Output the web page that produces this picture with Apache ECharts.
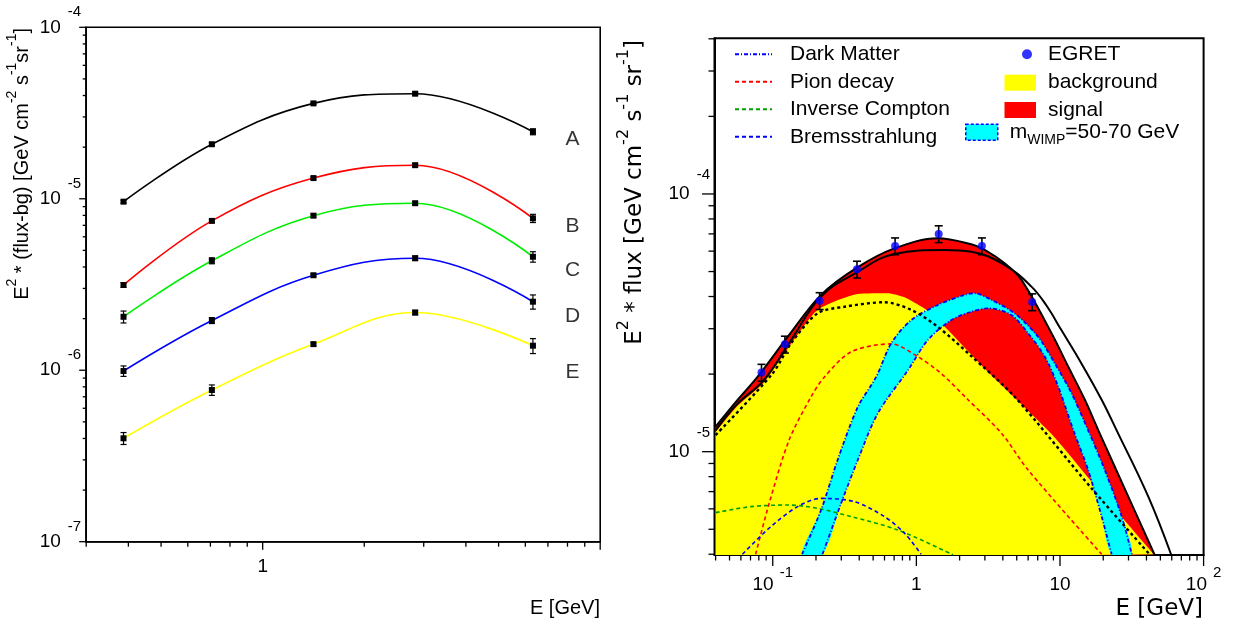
<!DOCTYPE html>
<html>
<head>
<meta charset="utf-8">
<script src="https://cdn.jsdelivr.net/npm/echarts@6/dist/echarts.min.js"></script>
<style>
html,body{margin:0;padding:0;background:#ffffff;}
#chart{width:1237px;height:628px;}
</style>
</head>
<body>
<div id="chart"></div>
<script>
// ================= LEFT PANEL DATA =================
const leftEnergies = [0.387, 0.707, 1.414, 2.83, 6.32];
const fluxA = [9.62e-6, 2.08e-5, 3.60e-5, 4.10e-5, 2.46e-5];
const fluxB = [3.14e-6, 7.43e-6, 1.32e-5, 1.57e-5, 7.69e-6];
const fluxC = [2.05e-6, 4.35e-6, 7.97e-6, 9.42e-6, 4.59e-6];
const fluxD = [9.9e-7, 1.95e-6, 3.58e-6, 4.50e-6, 2.51e-6];
const fluxE = [4.01e-7, 7.67e-7, 1.42e-6, 2.17e-6, 1.39e-6];
const relErrA = [0.02, 0.02, 0.015, 0.02, 0.04];
const relErrB = [0.03, 0.02, 0.015, 0.02, 0.055];
const relErrC = [0.08, 0.04, 0.02, 0.02, 0.07];
const relErrD = [0.07, 0.04, 0.02, 0.03, 0.095];
const relErrE = [0.08, 0.07, 0.02, 0.03, 0.10];
const regionNames = ['A', 'B', 'C', 'D', 'E'];
const regionLabelE = 8.28;
const regionLabelFlux = [2.23e-5, 6.93e-6, 3.85e-6, 2.07e-6, 9.77e-7];
const leftXLabelExps = [0];
const leftYLabelExps = [-7, -6, -5, -4];

// ================= RIGHT PANEL DATA =================
const egretE = [0.0835, 0.1215, 0.212, 0.386, 0.711, 1.43, 2.86, 6.40];
const egretFlux = [2.03e-5, 2.61e-5, 3.85e-5, 5.10e-5, 6.28e-5, 7.00e-5, 6.28e-5, 3.81e-5];
const egretRelErr = [0.075, 0.075, 0.075, 0.075, 0.075, 0.075, 0.075, 0.075];

// total fit (signal + background) – upper boundary of red area
const totalFit = [[0.04,1.25e-5],[0.0565,1.58e-5],[0.0783,1.95e-5],[0.127,2.79e-5],[0.217,4.06e-5],[0.391,5.20e-5],[0.703,6.15e-5],[1.41,6.73e-5],[2.41,6.38e-5],[2.99,6.07e-5],[4.12,5.38e-5],[5.39,4.64e-5],[8.73,2.88e-5],[11.4,2.14e-5],[14.9,1.59e-5],[18.5,1.21e-5],[29.9,6.69e-6],[45.4,4.0e-6]];
// second solid curve
const altFit = [[0.04,1.21e-5],[0.0565,1.53e-5],[0.087,1.90e-5],[0.134,2.71e-5],[0.217,4.00e-5],[0.391,4.99e-5],[0.703,5.85e-5],[1.57,6.06e-5],[2.41,5.97e-5],[4.12,5.30e-5],[6.33,4.37e-5],[8.05,3.69e-5],[10.2,2.97e-5],[14.1,2.20e-5],[19.5,1.59e-5],[24.8,1.21e-5],[41.2,6.69e-6],[59.3,4.0e-6]];
// background (yellow area)
const backgroundTop = [[0.04,1.19e-5],[0.0565,1.50e-5],[0.087,1.86e-5],[0.134,2.62e-5],[0.205,3.55e-5],[0.391,4.09e-5],[0.632,4.12e-5],[0.826,3.97e-5],[1.27,3.44e-5],[3.07,2.07e-5],[8.73,1.17e-5],[16.6,7.65e-6],[45.0,4.0e-6]];
// background model (black dashed)
const backgroundModel = [[0.04,1.16e-5],[0.0996,2.01e-5],[0.134,2.63e-5],[0.205,3.44e-5],[0.315,3.65e-5],[0.599,3.80e-5],[0.92,3.55e-5],[1.41,3.05e-5],[2.41,2.35e-5],[4.85,1.63e-5],[16.6,7.2e-6],[42.0,4.0e-6]];
const pionDecay = [[0.076,4.0e-6],[0.0944,6.3e-6],[0.130,1.11e-5],[0.1845,1.63e-5],[0.229,1.95e-5],[0.351,2.44e-5],[0.667,2.62e-5],[1.02,2.34e-5],[1.49,2.01e-5],[2.29,1.59e-5],[3.91,1.18e-5],[6.0,8.49e-6],[19.5,4.0e-6]];
const inverseCompton = [[0.04,5.80e-6],[0.0703,6.12e-6],[0.127,6.21e-6],[0.205,6.03e-6],[0.351,5.60e-6],[0.743,4.97e-6],[1.80,3.98e-6]];
const bremsstrahlung = [[0.0615,4.0e-6],[0.097,5.12e-6],[0.149,6.12e-6],[0.217,6.59e-6],[0.37,6.40e-6],[0.599,5.60e-6],[0.826,4.83e-6],[1.08,4.0e-6]];
// dark matter band (m_WIMP = 50-70 GeV): outer and inner edge
const dmOuter = [[0.16,4.0e-6],[0.217,5.94e-6],[0.283,9.29e-6],[0.391,1.49e-5],[0.525,1.95e-5],[0.667,2.63e-5],[0.92,3.24e-5],[1.41,3.71e-5],[2.17,4.06e-5],[2.54,4.12e-5],[3.33,3.88e-5],[4.84,3.44e-5],[7.04,2.79e-5],[9.2,2.20e-5],[12.0,1.69e-5],[15.7,1.21e-5],[20.5,8.49e-6],[26.9,5.6e-6],[31.6,4.0e-6]];
const dmInner = [[0.222,4.0e-6],[0.299,6.3e-6],[0.391,9.29e-6],[0.539,1.41e-5],[0.873,2.07e-5],[1.20,2.71e-5],[1.75,3.24e-5],[2.41,3.49e-5],[3.2,3.60e-5],[4.59,3.39e-5],[6.0,2.88e-5],[7.83,2.34e-5],[9.71,1.79e-5],[12.4,1.21e-5],[15.7,8.49e-6],[19.5,5.6e-6],[22.9,4.0e-6]];
const rightXLabelExps = [-1, 0, 1, 2];
const rightYLabelExps = [-5, -4];

// axis ranges
const leftXRange = [0.3, 10];
const leftYRange = [1e-7, 1e-4];
const rightXRange = [0.0393, 100];
const rightYRange = [3.973e-6, 4.018e-4];

// ================= HELPERS =================
const FONT = 'Liberation Sans, Arial, Helvetica, sans-serif';
const WIDE = 'DejaVu Sans, Verdana, sans-serif';

function decadeTicks(lo, hi) {
  const out = [];
  for (let d = Math.floor(Math.log10(lo)) ; d <= Math.ceil(Math.log10(hi)); d++) {
    for (let k = 1; k <= 9; k++) {
      const v = parseFloat((k * Math.pow(10, d)).toPrecision(6));
      if (v >= lo * 0.9999 && v <= hi * 1.0001) out.push(v);
    }
  }
  return out;
}
const leftXTicks = decadeTicks(leftXRange[0], leftXRange[1]);
const leftYTicks = decadeTicks(leftYRange[0], leftYRange[1]);
const rightXTicks = decadeTicks(rightXRange[0], rightXRange[1]);
const rightYTicks = decadeTicks(rightYRange[0], rightYRange[1]);

function isDecade(v) { const l = Math.log10(v); return Math.abs(l - Math.round(l)) < 1e-6; }

function powLabel(allowed) {
  return function (v) {
    const l = Math.log10(v);
    const e = Math.round(l);
    if (Math.abs(l - e) > 1e-6 || allowed.indexOf(e) < 0) return '';
    if (e === 0) return '{b|1}';
    if (e === 1) return '{b|10}';
    return '{b|10}{s|' + e + '}';
  };
}

function tickSeries(gi, ticks, dir, fixed, majorLen, minorLen) {
  return {
    type: 'custom', xAxisIndex: gi, yAxisIndex: gi, silent: true, z: 20, clip: false,
    data: ticks.map(v => dir === 'x' ? [v, fixed] : [fixed, v]),
    renderItem(params, api) {
      const p = api.coord([api.value(0), api.value(1)]);
      const v = api.value(dir === 'x' ? 0 : 1);
      const len = isDecade(v) ? majorLen : minorLen;
      const shape = dir === 'x'
        ? { x1: p[0], y1: p[1], x2: p[0], y2: p[1] + len }
        : { x1: p[0], y1: p[1], x2: p[0] - len, y2: p[1] };
      return { type: 'line', shape, style: { stroke: '#000', lineWidth: 1.3 } };
    }
  };
}

function errorBars(gi, xs, ys, rel, cap, lw, z) {
  return {
    type: 'custom', xAxisIndex: gi, yAxisIndex: gi, silent: true, z,
    data: xs.map((x, i) => [x, ys[i], ys[i] * (1 - rel[i]), ys[i] * (1 + rel[i])]),
    encode: { x: 0, y: [1, 2, 3] },
    renderItem(params, api) {
      const x = api.value(0);
      const lo = api.coord([x, api.value(2)]);
      const hi = api.coord([x, api.value(3)]);
      const h = cap / 2;
      const st = { stroke: '#000', lineWidth: lw };
      return { type: 'group', children: [
        { type: 'line', shape: { x1: lo[0], y1: lo[1], x2: hi[0], y2: hi[1] }, style: st },
        { type: 'line', shape: { x1: lo[0] - h, y1: lo[1], x2: lo[0] + h, y2: lo[1] }, style: st },
        { type: 'line', shape: { x1: hi[0] - h, y1: hi[1], x2: hi[0] + h, y2: hi[1] }, style: st }
      ]};
    }
  };
}

// ================= SERIES =================
const series = [];
const leftSets = [
  { v: fluxA, e: relErrA, c: '#000000' },
  { v: fluxB, e: relErrB, c: '#ff0000' },
  { v: fluxC, e: relErrC, c: '#00ee00' },
  { v: fluxD, e: relErrD, c: '#0000ff' },
  { v: fluxE, e: relErrE, c: '#ffff00' }
];
leftSets.forEach((s, i) => {
  series.push({
    type: 'line', name: 'region' + regionNames[i], xAxisIndex: 0, yAxisIndex: 0,
    data: leftEnergies.map((x, j) => [x, s.v[j]]),
    smooth: 0.4, symbol: 'rect', symbolSize: 6, showSymbol: true,
    itemStyle: { color: '#000' }, lineStyle: { color: s.c, width: 1.6 },
    z: 3, silent: true
  });
  series.push(errorBars(0, leftEnergies, s.v, s.e, 6, 1.2, 2));
});
series.push({
  type: 'scatter', xAxisIndex: 0, yAxisIndex: 0, symbolSize: 1, silent: true,
  itemStyle: { color: 'rgba(0,0,0,0)' },
  data: regionNames.map((n, i) => ({ name: n, value: [regionLabelE, regionLabelFlux[i]] })),
  label: { show: true, position: 'inside', formatter: '{b}', fontSize: 21, color: '#000', fontFamily: FONT }
});

// right panel
series.push({
  type: 'line', name: 'signal', xAxisIndex: 1, yAxisIndex: 1, data: totalFit, smooth: 0.35,
  symbol: 'none', color: '#ff0000', lineStyle: { width: 0, opacity: 0 },
  areaStyle: { color: '#ff0000', opacity: 1, origin: 'start' }, z: 1, silent: true
});
series.push({
  type: 'line', name: 'background', xAxisIndex: 1, yAxisIndex: 1, data: backgroundTop, smooth: 0.2,
  symbol: 'none', color: '#ffff00', lineStyle: { width: 0, opacity: 0 },
  areaStyle: { color: '#ffff00', opacity: 1, origin: 'start' }, z: 1, silent: true
});
series.push({
  type: 'custom', name: 'mWIMP', xAxisIndex: 1, yAxisIndex: 1, z: 2, silent: true,
  itemStyle: { color: '#00ffff' },
  data: dmOuter.concat(dmInner.slice().reverse()),
  renderItem(params, api) {
    if (params.dataIndexInside !== 0) return null;
    const pts = [];
    for (let i = 0; i < params.dataInsideLength; i++) pts.push(api.coord([api.value(0, i), api.value(1, i)]));
    const cs = params.coordSys;
    return { type: 'polygon', shape: { points: pts, smooth: 0.3 }, style: { fill: '#00ffff' },
      clipPath: { type: 'rect', shape: { x: cs.x, y: cs.y, width: cs.width, height: cs.height } } };
  }
});
series.push({ type: 'line', name: 'Pion decay', xAxisIndex: 1, yAxisIndex: 1, data: pionDecay, smooth: 0.3, symbol: 'none', color: '#ff0000', lineStyle: { color: '#ff0000', width: 1.6, type: [4, 3] }, z: 3, silent: true });
series.push({ type: 'line', name: 'Inverse Compton', xAxisIndex: 1, yAxisIndex: 1, data: inverseCompton, smooth: 0.3, symbol: 'none', color: '#00a000', lineStyle: { color: '#00a000', width: 1.6, type: [4, 3] }, z: 3, silent: true });
series.push({ type: 'line', name: 'Bremsstrahlung', xAxisIndex: 1, yAxisIndex: 1, data: bremsstrahlung, smooth: 0.3, symbol: 'none', color: '#0000ff', lineStyle: { color: '#0000ff', width: 1.6, type: [4, 3] }, z: 3, silent: true });
const dmStyle = { color: '#0000ff', width: 1.8, type: [4, 2, 1, 2] };
series.push({ type: 'line', name: 'Dark Matter', xAxisIndex: 1, yAxisIndex: 1, data: dmOuter, smooth: 0.3, symbol: 'none', color: '#0000ff', lineStyle: dmStyle, z: 3, silent: true });
series.push({ type: 'line', name: 'Dark Matter', xAxisIndex: 1, yAxisIndex: 1, data: dmInner, smooth: 0.3, symbol: 'none', color: '#0000ff', lineStyle: dmStyle, z: 3, silent: true });
series.push({ type: 'line', name: 'bgModel', xAxisIndex: 1, yAxisIndex: 1, data: backgroundModel, smooth: 0.3, symbol: 'none', color: '#000', lineStyle: { color: '#000', width: 2.4, type: [3, 3] }, z: 4, silent: true });
series.push({ type: 'line', name: 'totalFit', xAxisIndex: 1, yAxisIndex: 1, data: totalFit, smooth: 0.35, symbol: 'none', color: '#000', lineStyle: { color: '#000', width: 2 }, z: 4, silent: true });
series.push({ type: 'line', name: 'altFit', xAxisIndex: 1, yAxisIndex: 1, data: altFit, smooth: 0.4, symbol: 'none', color: '#000', lineStyle: { color: '#000', width: 2 }, z: 4, silent: true });
series.push(errorBars(1, egretE, egretFlux, egretRelErr, 8, 1.6, 5));
series.push({ type: 'scatter', name: 'EGRET', xAxisIndex: 1, yAxisIndex: 1, data: egretE.map((x, i) => [x, egretFlux[i]]), symbol: 'circle', symbolSize: 8, color: '#0000ff', itemStyle: { color: '#0000ff' }, z: 6, silent: true });

// ticks
series.push(tickSeries(0, leftXTicks, 'x', leftYRange[0], 8, 5));
series.push(tickSeries(0, leftYTicks, 'y', leftXRange[0], 7, 3.5));
series.push(tickSeries(1, rightXTicks, 'x', rightYRange[0], 11, 5.5));
series.push(tickSeries(1, rightYTicks, 'y', rightXRange[0], 12.5, 6));

// ================= OPTION =================
const axisLineStyle = { show: true, lineStyle: { color: '#000', width: 1.6 } };
const hiddenSymbol = { opacity: 0 };
const option = {
  animation: false,
  backgroundColor: '#ffffff',
  textStyle: { fontFamily: FONT },
  grid: [
    { left: 86.2, top: 27.3, width: 514, height: 514.4, show: true, borderColor: '#000', borderWidth: 1.6, backgroundColor: 'transparent', containLabel: false, outerBoundsMode: 'none' },
    { left: 714.5, top: 38.3, width: 489.1, height: 516.7, show: true, borderColor: '#000', borderWidth: 2, backgroundColor: 'transparent', containLabel: false, outerBoundsMode: 'none' }
  ],
  xAxis: [
    { type: 'log', logBase: 10, gridIndex: 0, min: leftXRange[0], max: leftXRange[1],
      axisLine: axisLineStyle, axisTick: { show: false }, splitLine: { show: false }, minorTick: { show: false },
      axisLabel: { formatter: powLabel(leftXLabelExps), margin: 15, color: '#000', showMinLabel: true, showMaxLabel: true,
        rich: { b: { fontSize: 19, lineHeight: 20, fontFamily: FONT, color: '#000' }, s: { fontSize: 15, padding: [0, 0, 24, 6], fontFamily: FONT, color: '#000' } } } },
    { type: 'log', logBase: 10, gridIndex: 1, min: rightXRange[0], max: rightXRange[1],
      axisLine: { show: true, lineStyle: { color: '#000', width: 2 } }, axisTick: { show: false }, splitLine: { show: false }, minorTick: { show: false },
      axisLabel: { formatter: powLabel(rightXLabelExps), margin: 10.5, color: '#000', showMinLabel: true, showMaxLabel: true,
        rich: { b: { fontSize: 19, lineHeight: 39, fontFamily: FONT, color: '#000' }, s: { fontSize: 15, padding: [0, 0, 24, 6], fontFamily: FONT, color: '#000' } } } }
  ],
  yAxis: [
    { type: 'log', logBase: 10, gridIndex: 0, min: leftYRange[0], max: leftYRange[1],
      axisLine: axisLineStyle, axisTick: { show: false }, splitLine: { show: false }, minorTick: { show: false },
      axisLabel: { formatter: powLabel(leftYLabelExps), margin: 5, color: '#000', showMinLabel: true, showMaxLabel: true,
        rich: { b: { fontSize: 19, lineHeight: 20, fontFamily: FONT, color: '#000' }, s: { fontSize: 15, padding: [0, 0, 30, 7], fontFamily: FONT, color: '#000' } } } },
    { type: 'log', logBase: 10, gridIndex: 1, min: rightYRange[0], max: rightYRange[1],
      axisLine: { show: true, lineStyle: { color: '#000', width: 2 } }, axisTick: { show: false }, splitLine: { show: false }, minorTick: { show: false },
      axisLabel: { formatter: powLabel(rightYLabelExps), margin: 4.5, color: '#000', showMinLabel: true, showMaxLabel: true,
        rich: { b: { fontSize: 19, lineHeight: 20, fontFamily: FONT, color: '#000' }, s: { fontSize: 15, padding: [0, 0, 38, 7], fontFamily: FONT, color: '#000' } } } }
  ],
  legend: [
    { orient: 'vertical', left: 734, top: 43.8, padding: 0, itemWidth: 37, itemHeight: 14, itemGap: 6.5, selectedMode: false,
      data: [
        { name: 'Dark Matter', itemStyle: hiddenSymbol },
        { name: 'Pion decay', itemStyle: hiddenSymbol },
        { name: 'Inverse Compton', itemStyle: hiddenSymbol },
        { name: 'Bremsstrahlung', itemStyle: hiddenSymbol }
      ],
      textStyle: { fontSize: 21, lineHeight: 21, fontFamily: FONT, color: '#000', padding: [0, 0, 0, 13] } },
    { orient: 'vertical', left: 1022, top: 43.8, padding: 0, itemWidth: 10, itemHeight: 10, selectedMode: false,
      data: [{ name: 'EGRET', icon: 'circle', itemStyle: { color: '#0000ff' } }],
      textStyle: { fontSize: 21, lineHeight: 21, fontFamily: FONT, color: '#000', padding: [0, 0, 0, 11] } },
    { orient: 'vertical', left: 1004.5, top: 72.2, padding: 0, itemWidth: 31.5, itemHeight: 16, itemGap: 6.3, selectedMode: false,
      data: [{ name: 'background', icon: 'rect', itemStyle: { color: '#ffff00', borderWidth: 0 } }, { name: 'signal', icon: 'rect', itemStyle: { color: '#ff0000', borderWidth: 0 } }],
      textStyle: { fontSize: 21, lineHeight: 21, fontFamily: FONT, color: '#000', padding: [0, 0, 0, 7] } },
    { orient: 'vertical', left: 965, top: 121.7, padding: 0, itemWidth: 32, itemHeight: 16, selectedMode: false,
      data: [{ name: 'mWIMP', icon: 'rect', itemStyle: { color: '#00ffff', borderColor: '#0000ff', borderWidth: 1.5, borderType: [3, 2] } }],
      formatter: function () { return '{m|m}{sub|WIMP}{m|=50-70 GeV}'; },
      textStyle: { fontSize: 21, fontFamily: FONT, color: '#000', padding: [0, 0, 0, 7],
        rich: { m: { fontSize: 21, fontFamily: FONT, color: '#000' }, sub: { fontSize: 14, fontFamily: FONT, color: '#000', padding: [16, 0, 0, 0] } } } }
  ],
  graphic: [
    { type: 'text', x: 22.5, y: 28, rotation: Math.PI / 2, silent: true,
      style: { text: '{m|E}{s|2}{m| * (flux-bg) [GeV cm}{s|-2}{m| s}{s|-1}{m|sr}{s|-1}{m|]}', align: 'right', verticalAlign: 'middle', fill: '#000',
        rich: { m: { fontSize: 20, lineHeight: 20, fontFamily: FONT, fill: '#000' }, s: { fontSize: 14, padding: [0, 0, 20, 0], fontFamily: FONT, fill: '#000' } } } },
    { type: 'text', x: 600, y: 608, silent: true,
      style: { text: 'E [GeV]', align: 'right', verticalAlign: 'middle', fill: '#000', fontSize: 20, fontFamily: FONT } },
    { type: 'text', x: 635, y: 40, rotation: Math.PI / 2, silent: true,
      style: { text: '{m|E}{s|2}{m| * flux [GeV cm}{s|-2}{m| s}{s|-1}{m| sr}{s|-1}{m|]}', align: 'right', verticalAlign: 'middle', fill: '#000',
        rich: { m: { fontSize: 23, lineHeight: 23, fontFamily: WIDE, fill: '#000' }, s: { fontSize: 16, padding: [0, 0, 22, 0], fontFamily: WIDE, fill: '#000' } } } },
    { type: 'text', x: 1203, y: 609, silent: true,
      style: { text: 'E [GeV]', align: 'right', verticalAlign: 'middle', fill: '#000', fontSize: 23, fontFamily: WIDE } }
  ],
  series: series
};

const chart = echarts.init(document.getElementById('chart'), null, { renderer: 'canvas' });
chart.setOption(option);
</script>
</body>
</html>
